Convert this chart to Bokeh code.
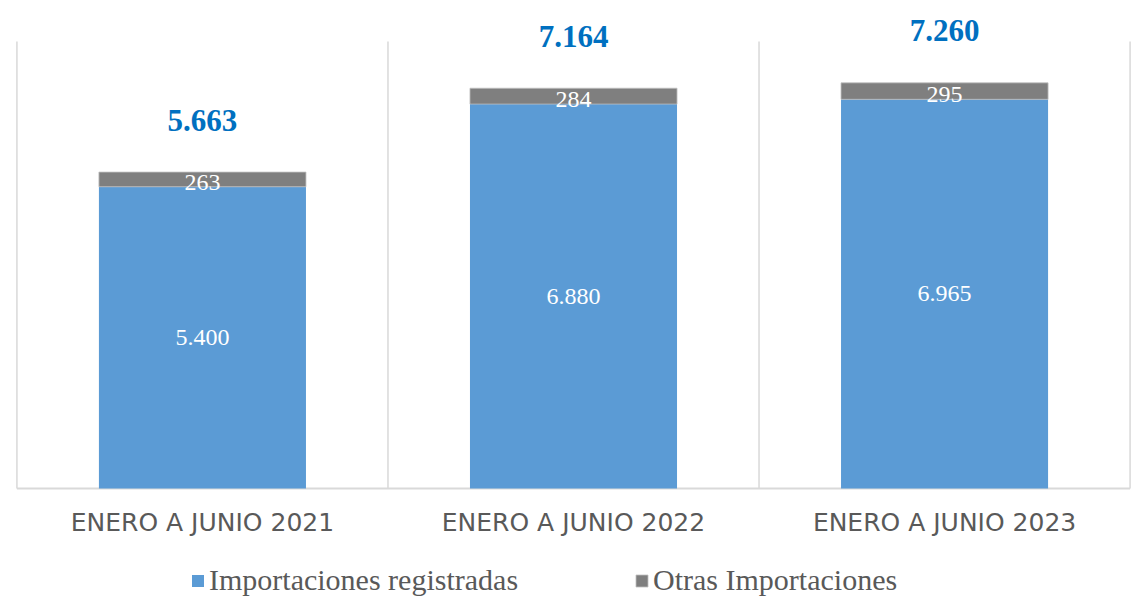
from bokeh.plotting import figure
from bokeh.models import ColumnDataSource, LabelSet, Legend, LegendItem, Range1d
from bokeh.core.properties import value
from bokeh.embed import file_html
from bokeh.resources import INLINE

categories = ["ENERO A JUNIO 2021", "ENERO A JUNIO 2022", "ENERO A JUNIO 2023"]
registradas = [5400, 6880, 6965]
otras = [263, 284, 295]
totales = [5663, 7164, 7260]
labels_reg = ["5.400", "6.880", "6.965"]
labels_otras = ["263", "284", "295"]
labels_tot = ["5.663", "7.164", "7.260"]
axis_max = 8000

n = len(categories)
xpos = [i + 0.5 for i in range(n)]
boundaries = list(range(n + 1))
top_all = [r + o for r, o in zip(registradas, otras)]
src = ColumnDataSource(dict(
    x=xpos, top_reg=registradas, top_all=top_all,
    mid_reg=[r / 2 for r in registradas],
    mid_oth=[r + o / 2 for r, o in zip(registradas, otras)],
    tot=totales, lreg=labels_reg, loth=labels_otras, ltot=labels_tot,
    cat=categories, zero=[0] * n,
))

p = figure(width=1142, height=599, output_backend="svg", toolbar_location=None,
           x_range=Range1d(-0.02, n + 0.02), y_range=Range1d(-1987, 8734),
           min_border_left=9, min_border_right=5, min_border_top=0, min_border_bottom=0)
p.outline_line_color = None
p.background_fill_color = "white"
p.xaxis.visible = False
p.yaxis.visible = False
p.xgrid.visible = False
p.ygrid.visible = False

grid_color = "#D9D9D9"
p.segment(x0=boundaries, y0=[0] * (n + 1), x1=boundaries, y1=[axis_max] * (n + 1),
          line_color=grid_color, line_width=1.5)
p.segment(x0=[boundaries[0]], y0=[0], x1=[boundaries[-1]], y1=[0],
          line_color=grid_color, line_width=2)

blue = "#5B9BD5"
gray = "#7F7F7F"
r1 = p.vbar(x="x", width=0.558, bottom=0, top="top_reg", source=src,
            fill_color=blue, line_color=None)
r2 = p.vbar(x="x", width=0.558, bottom="top_reg", top="top_all", source=src,
            fill_color=gray, line_color="#BFBFBF", line_width=0.8)

serif_name = "'Liberation Serif', 'Times New Roman', serif"
serif = value(serif_name)
p.add_layout(LabelSet(x="x", y="mid_reg", text="lreg", source=src,
                      text_align="center", text_baseline="middle",
                      text_color="white", text_font=serif,
                      text_font_size=value("24px")))
p.add_layout(LabelSet(x="x", y="mid_oth", text="loth", source=src,
                      text_align="center", text_baseline="middle", y_offset=-3,
                      text_color="white", text_font=serif,
                      text_font_size=value("24px")))
p.add_layout(LabelSet(x="x", y="tot", text="ltot", source=src,
                      text_align="center", text_baseline="middle", y_offset=52,
                      text_color="#0070C0", text_font=serif,
                      text_font_style="bold", text_font_size=value("31px")))
p.add_layout(LabelSet(x="x", y="zero", text="cat", source=src,
                      text_align="center", text_baseline="middle", y_offset=-34,
                      text_color="#595959", text_font=value("DejaVu Sans"),
                      text_font_size=value("25px")))

legend = Legend(items=[LegendItem(label="Importaciones registradas", renderers=[r1]),
                       LegendItem(label="Otras Importaciones", renderers=[r2])],
                orientation="horizontal", location=(181, 2),
                label_text_font=serif_name, label_text_font_size="30px",
                label_text_color="#595959", glyph_width=15, glyph_height=15,
                spacing=116, label_standoff=4, border_line_color=None,
                padding=0, margin=0, background_fill_alpha=0)
p.add_layout(legend)

open("out.html", "w").write(file_html(p, INLINE))
